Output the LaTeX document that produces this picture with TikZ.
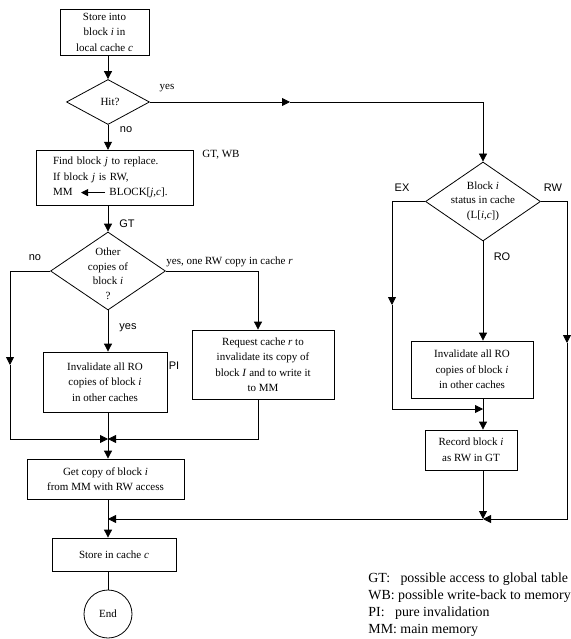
\documentclass[tikz,border=0pt]{standalone}
\usepackage{fontspec}
\setmainfont{Liberation Serif}
\setsansfont{Liberation Sans}
\usetikzlibrary{arrows.meta,shapes.geometric}

% small left-pointing arrow used inside the replacement box
\newcommand\inarrow{\tikz[baseline=-0.6ex,x=1pt,y=1pt,line width=0.9pt]
  \draw[-{Triangle[length=7pt,width=7pt]}] (24,0) -- (0,0);}

\begin{document}
\begin{tikzpicture}[x=1pt,y=-1pt,line width=0.8pt,
  box/.style={draw,rectangle,inner sep=2pt,align=center,
    font=\fontsize{11}{15.5}\selectfont},
  dia/.style={draw,diamond,inner sep=0pt},
  dtext/.style={align=center,inner sep=0pt,font=\fontsize{11}{14.5}\selectfont},
  arr/.style={-{Triangle[length=8pt,width=8pt]}},
  lab/.style={inner sep=0pt,font=\sffamily\fontsize{11}{13}\selectfont},
  slab/.style={inner sep=0pt,font=\fontsize{11}{13}\selectfont},
  leg/.style={inner sep=0pt,anchor=base west,font=\fontsize{13.9}{17}\selectfont}]
\useasboundingbox (0,0) rectangle (570,639);

% columns
\coordinate (col) at (108,0);
\coordinate (rcol) at (483,0);

% left column nodes
\node[box,minimum width=89,minimum height=46] (s1) at (104.5,32)
  {Store into\\block \textit{i} in\\local cache \textit{c}};
\node[dia,minimum width=83,minimum height=45] (hit) at (108,102) {};
\node[dtext] (hitt) at (110,102) {Hit?};
\node[box,text width=123,inner xsep=17pt,minimum height=55,align=left] (find) at (114.5,177.5)
  {Find block \textit{j} to replace.\\If block \textit{j} is RW,\\MM\hspace{8pt}\inarrow\hspace{4pt}BLOCK[\textit{j},\textit{c}].};
\node[dia,minimum width=115,minimum height=78] (other) at (108,271) {};
\node[dtext] (othert) at (108,274) {Other\\copies of\\block \textit{i}\\?};
\node[box,minimum width=124,minimum height=60] (pi) at (105,382)
  {Invalidate all RO\\copies of block \textit{i}\\in other caches};
\node[box,minimum width=142,minimum height=69] (req) at (263,364.5)
  {Request cache \textit{r} to\\invalidate its copy of\\block \textit{I} and to write it\\to MM};
\node[box,minimum width=157,minimum height=40] (get) at (105.5,479)
  {Get copy of block \textit{i}\\from MM with RW access};
\node[box,minimum width=124,minimum height=33] (store) at (114,554.5)
  {Store in cache \textit{c}};
\node[draw,circle,minimum size=48,inner sep=0pt,font=\fontsize{11}{13}\selectfont]
  (end) at (108,614) {End};

% right column nodes
\node[dia,minimum width=115,minimum height=79] (status) at (483,201.5) {};
\node[dtext] (statust) at (483,201) {Block \textit{i}\\status in cache\\(L[\textit{i},\textit{c}])};
\node[box,minimum width=122,minimum height=57] (ro) at (472,369.5)
  {Invalidate all RO\\copies of block \textit{i}\\in other caches};
\node[box,minimum width=92,minimum height=40] (rec) at (471,450)
  {Record block \textit{i}\\as RW in GT};

% bend and junction points
\coordinate (hmid) at (290,102);
\coordinate (hturn) at (483,102);
\coordinate (nol) at (10,271);
\coordinate (nomid) at (10,365);
\coordinate (nob) at (10,439);
\coordinate (mg) at (108,439);
\coordinate (yesr) at (258,271);
\coordinate (reqb) at (258,439);
\coordinate (jn) at (108,519);
\coordinate (exl) at (392,201.5);
\coordinate (exmid) at (392,305);
\coordinate (exj) at (392,409);
\coordinate (rojoin) at (483,409);
\coordinate (rwr) at (567,201.5);
\coordinate (rwmid) at (567,343);
\coordinate (rwb) at (567,519);
\coordinate (rj) at (483,519);

% connectors, left part
\draw[arr] (s1.south -| col) -- (hit.north);
\draw[arr] (hit.east) -- (hmid);
\draw[arr] (hmid) -- (hturn) -- (status.north);
\draw[arr] (hit.south) -- (find.north -| col);
\draw[arr] (find.south -| col) -- (other.north);
\draw[arr] (other.west) -- (nol) -- (nomid);
\draw[arr] (nomid) -- (nob) -- (mg);
\draw[arr] (other.east) -- (yesr) -- (req.north -| yesr);
\draw[arr] (req.south -| yesr) -- (reqb) -- (mg);
\draw[arr] (other.south) -- (pi.north -| col);
\draw (pi.south -| col) -- (mg);
\draw[arr] (mg) -- (get.north -| col);
\draw[arr] (get.south -| col) -- (store.north -| col);
\draw[arr] (rj) -- (jn);
\draw (store.south -| col) -- (end.north);

% connectors, right part
\draw[arr] (status.west) -- (exl) -- (exmid);
\draw[arr] (exmid) -- (exj) -- (rojoin);
\draw[arr] (status.south) -- (ro.north -| rcol);
\draw[arr] (ro.south -| rcol) -- (rec.north -| rcol);
\draw[arr] (status.east) -- (rwr) -- (rwmid);
\draw[arr] (rwmid) -- (rwb) -- (rj);
\draw[arr] (rec.south -| rcol) -- (rj);

% branch labels
\node[slab] (lyes) at (167,88) {yes};
\node[lab] (lno) at (126,130) {no};
\node[slab] (lgtwb) at (221,155) {GT, WB};
\node[lab] (lgt) at (127,224) {GT};
\node[lab] (lno2) at (35,258) {no};
\node[slab,anchor=west] (lyes2) at (166,262) {yes, one RW copy in cache \textit{r}};
\node[lab] (lyes3) at (128,328) {yes};
\node[lab] (lpi) at (174,366) {PI};
\node[lab] (lex) at (402,188) {EX};
\node[lab] (lrw) at (553,188) {RW};
\node[lab] (lro) at (502,257) {RO};

% legend
\node[leg] (lg1) at (368,582) {GT:\ \ \ possible access to global table};
\node[leg] (lg2) at (368,599) {WB: possible write-back to memory};
\node[leg] (lg3) at (368,616) {PI:\ \ \ pure invalidation};
\node[leg] (lg4) at (368,633) {MM: main memory};
\end{tikzpicture}
\end{document}
